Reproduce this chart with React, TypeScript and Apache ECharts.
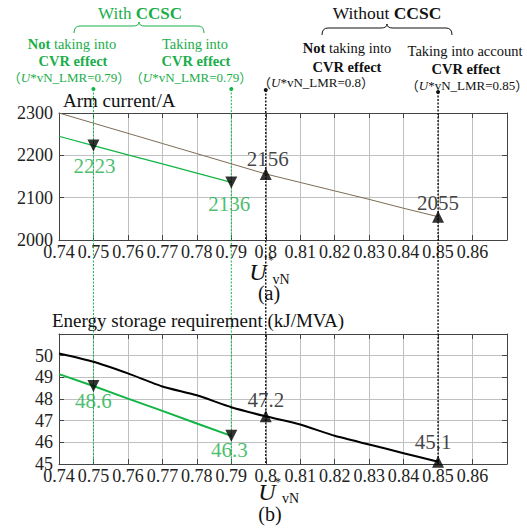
import React, { useEffect, useRef } from 'react';
import * as echarts from 'echarts';

// ---------- data ----------
const uAll = [0.74, 0.75, 0.76, 0.77, 0.78, 0.79, 0.8, 0.81, 0.82, 0.83, 0.84, 0.85];
const uWith = [0.74, 0.75, 0.76, 0.77, 0.78, 0.79];
const armWithout = [2300, 2276, 2252, 2228, 2204, 2180, 2156, 2136, 2116, 2096, 2075, 2055];
const armWith = [2245, 2223, 2201, 2180, 2158, 2136];
const energyWithout = [50.1, 49.72, 49.18, 48.58, 48.17, 47.62, 47.2, 46.82, 46.3, 45.9, 45.5, 45.1];
const energyWith = [49.15, 48.6, 48.02, 47.45, 46.87, 46.3];

const markedU = [0.75, 0.79, 0.8, 0.85];
const markedWithCCSC = [true, true, false, false];
const armMarked = [2223, 2136, 2156, 2055];
const energyMarked = [48.6, 46.3, 47.2, 45.1];

const FONT = "'Liberation Serif','Times New Roman',serif";
const CJK = "'Noto Sans CJK SC','Noto Sans CJK JP',sans-serif";
const GREEN_TXT = '#1aae4a';
const GREEN_LINE = '#12b545';
const BROWN = '#7d6c55';

const armLabelOffsets = [[1, 20], [-2, 22], [2, -15], [0, -14]];
const energyLabelOffsets = [[0, 15], [-2, 14], [0, -16], [-5, -20]];

function fmtX(v: number) {
  if (v > 0.865) return '';
  return String(Math.round(v * 100) / 100);
}

function axesFor(gridIndex: number, ymin: number, ymax: number, yint: number, hideMax: boolean) {
  const frame = { show: true, onZero: false, lineStyle: { color: '#444', width: 1 } };
  const tick = { show: true, inside: true, length: 5, lineStyle: { color: '#444', width: 1 } };
  const split = { show: true, lineStyle: { color: '#c0c0c0', width: 1 } };
  const xb = {
    gridIndex, type: 'value', min: 0.74, max: 0.87, interval: 0.01, position: 'bottom',
    axisLine: frame, axisTick: tick, splitLine: split,
    axisLabel: { margin: 3, fontFamily: FONT, fontSize: 18, color: '#222', formatter: fmtX },
  };
  const xt = {
    gridIndex, type: 'value', min: 0.74, max: 0.87, interval: 0.01, position: 'top',
    axisLine: frame, axisTick: tick, splitLine: { show: false }, axisLabel: { show: false },
  };
  const yl = {
    gridIndex, type: 'value', min: ymin, max: ymax, interval: yint, position: 'left',
    axisLine: frame, axisTick: tick, splitLine: split,
    axisLabel: {
      margin: 6, fontFamily: FONT, fontSize: 18, color: '#222',
      formatter: (v: number) => (hideMax && v >= ymax ? '' : String(v)),
    },
  };
  const yr = {
    gridIndex, type: 'value', min: ymin, max: ymax, interval: yint, position: 'right',
    axisLine: frame, axisTick: tick, splitLine: { show: false }, axisLabel: { show: false },
  };
  return { xb, xt, yl, yr };
}

function markerData(vals: number[], offsets: number[][]) {
  return markedU.map((u, i) => ({
    value: [u, vals[i]],
    symbolRotate: markedWithCCSC[i] ? 180 : 0,
    label: {
      show: true,
      position: 'inside',
      offset: offsets[i],
      formatter: String(vals[i]),
      fontFamily: FONT,
      fontSize: 21,
      color: markedWithCCSC[i] ? GREEN_TXT : '#111',
    },
  }));
}

export default function App() {
  const ref = useRef<HTMLDivElement>(null);
  useEffect(() => {
    if (!ref.current) return;
    const chart = echarts.init(ref.current, undefined, { renderer: 'svg' });
    const a = axesFor(0, 2000, 2300, 100, false);
    const b = axesFor(1, 45, 51, 1, true);
    const option: any = {
      animation: false,
      backgroundColor: '#fff',
      grid: [
        { left: 59, top: 113, width: 448, height: 127 },
        { left: 59, top: 334, width: 448, height: 130 },
      ],
      xAxis: [a.xb, b.xb, a.xt, b.xt],
      yAxis: [a.yl, b.yl, a.yr, b.yr],
      series: [
        {
          type: 'line', xAxisIndex: 0, yAxisIndex: 0, symbol: 'none',
          data: uAll.map((u, i) => [u, armWithout[i]]),
          lineStyle: { color: BROWN, width: 1 }, z: 3,
        },
        {
          type: 'line', xAxisIndex: 0, yAxisIndex: 0, symbol: 'none',
          data: uWith.map((u, i) => [u, armWith[i]]),
          lineStyle: { color: GREEN_LINE, width: 1.2 }, z: 3,
        },
        {
          type: 'scatter', xAxisIndex: 0, yAxisIndex: 0, symbol: 'triangle', symbolSize: 12,
          itemStyle: { color: '#000' }, data: markerData(armMarked, armLabelOffsets), z: 5,
        },
        {
          type: 'line', xAxisIndex: 1, yAxisIndex: 1, symbol: 'none', smooth: 0.2,
          data: uAll.map((u, i) => [u, energyWithout[i]]),
          lineStyle: { color: '#000', width: 2 }, z: 3,
        },
        {
          type: 'line', xAxisIndex: 1, yAxisIndex: 1, symbol: 'none',
          data: uWith.map((u, i) => [u, energyWith[i]]),
          lineStyle: { color: GREEN_LINE, width: 2 }, z: 3,
        },
        {
          type: 'scatter', xAxisIndex: 1, yAxisIndex: 1, symbol: 'triangle', symbolSize: 12,
          itemStyle: { color: '#000' }, data: markerData(energyMarked, energyLabelOffsets), z: 5,
        },
      ],
    };
    chart.setOption(option);

    const yBottom = chart.convertToPixel({ yAxisIndex: 1 }, 45) as number;
    const topYs = [89, 89, 90, 92];
    const guides: any[] = [];
    markedU.forEach((u, i) => {
      const x = chart.convertToPixel({ xAxisIndex: 0 }, u) as number;
      const color = markedWithCCSC[i] ? GREEN_LINE : '#111';
      guides.push({
        type: 'line', z: 1,
        shape: { x1: x, y1: topYs[i], x2: x, y2: yBottom },
        style: { stroke: color, lineWidth: markedWithCCSC[i] ? 1 : 1.4, lineDash: [2, 1.5] },
      });
      guides.push({
        type: 'circle', z: 1,
        shape: { cx: x, cy: topYs[i], r: 2 },
        style: { fill: color },
      });
    });

    echarts.graphic.registerShape(
      'brace',
      echarts.graphic.extendPath('M0 11 Q0 4 6 4 L59 4 Q65 4 65 0 Q65 4 71 4 L124 4 Q130 4 130 11', {}) as any
    );

    const tok = (size: number, color: string, extra: any = {}) => ({
      fontFamily: FONT, fontSize: size, fill: color, color, ...extra,
    });
    const txt = (x: number, y: number, text: string, size: number, color: string) => ({
      type: 'text', x, y, z: 10,
      style: {
        text, fontFamily: FONT, fontSize: size, fill: color,
        align: 'center', verticalAlign: 'middle',
        rich: {
          n: tok(size, color),
          b: tok(size, color, { fontWeight: 'bold' }),
          i: tok(size, color, { fontStyle: 'italic' }),
          p: tok(size, color, { fontFamily: CJK }),
        },
      },
    });

    const plain = (x: number, y: number, text: string, size: number, extra: any = {}) => ({
      type: 'text', x, y, z: 10,
      style: { text, fontFamily: FONT, fontSize: size, fill: '#111', align: 'center', verticalAlign: 'middle', ...extra },
    });

    const paren = (v: string) => `{p|（}{i|U}{n|*vN_LMR=${v}}{p|）}`;

    const graphics: any[] = [
      ...guides,
      // with CCSC group
      txt(140, 13, '{n|With }{b|CCSC}', 17, GREEN_TXT),
      { type: 'brace', x: 74, y: 22, style: { stroke: GREEN_TXT, fill: 'none', lineWidth: 1 } },
      txt(72, 44, '{b|Not}{n| taking into}', 14.5, GREEN_TXT),
      txt(73, 61, '{b|CVR effect}', 14.5, GREEN_TXT),
      txt(69, 77, paren('0.79'), 13, GREEN_TXT),
      txt(195, 44, '{n|Taking into}', 14.5, GREEN_TXT),
      txt(196, 61, '{b|CVR effect}', 14.5, GREEN_TXT),
      txt(191, 77, paren('0.79'), 13, GREEN_TXT),
      // without CCSC group
      txt(387, 13, '{n|Without }{b|CCSC}', 17.5, '#111'),
      { type: 'brace', x: 322, y: 24, style: { stroke: '#111', fill: 'none', lineWidth: 1 } },
      txt(347, 48, '{b|Not}{n| taking into}', 14.5, '#111'),
      txt(347, 67, '{b|CVR effect}', 14.5, '#111'),
      txt(316, 82, paren('0.8'), 13, '#111'),
      txt(465, 51, '{n|Taking into account}', 14.5, '#111'),
      txt(466, 69, '{b|CVR effect}', 14.5, '#111'),
      txt(467, 85, paren('0.85'), 13, '#111'),
      // titles
      plain(63, 100, 'Arm current/A', 19, { align: 'left' }),
      plain(52, 320, 'Energy storage requirement (kJ/MVA)', 19, { align: 'left' }),
      // axis names
      plain(258, 272, 'U', 24, { fontStyle: 'italic' }),
      plain(271, 260, '*', 12),
      plain(281, 279, 'vN', 14),
      plain(269, 293, '(a)', 20),
      plain(267, 492, 'U', 24, { fontStyle: 'italic' }),
      plain(278, 482, '*', 12),
      plain(290.5, 498, 'vN', 14),
      plain(270, 514, '(b)', 20),
    ];
    chart.setOption({ graphic: graphics });

    return () => chart.dispose();
  }, []);
  return (
    <div
      ref={ref}
      style={{ position: 'fixed', left: 0, top: 0, width: 527, height: 529, background: '#fff' }}
    />
  );
}
